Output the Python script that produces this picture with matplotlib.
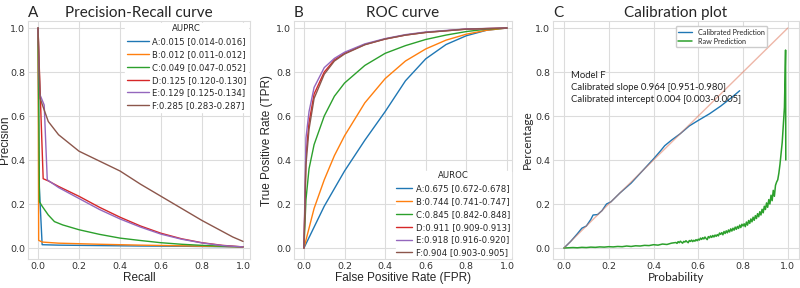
import numpy as np
import matplotlib
matplotlib.use("Agg")
import matplotlib.pyplot as plt
import seaborn as sns

sns.set_style("whitegrid")
plt.rcParams["font.family"] = ["DejaVu Sans"]

models = ["A", "B", "C", "D", "E", "F"]
colors = ["tab:blue", "tab:orange", "tab:green", "tab:red", "tab:purple", "tab:brown"]

auprc = ["0.015 [0.014-0.016]", "0.012 [0.011-0.012]", "0.049 [0.047-0.052]",
         "0.125 [0.120-0.130]", "0.129 [0.125-0.134]", "0.285 [0.283-0.287]"]
auroc = ["0.675 [0.672-0.678]", "0.744 [0.741-0.747]", "0.845 [0.842-0.848]",
         "0.911 [0.909-0.913]", "0.918 [0.916-0.920]", "0.904 [0.903-0.905]"]

# precision-recall curves
pr_recall = {
    "A": [0, 0.005, 0.02, 0.1, 0.3, 0.5, 0.7, 0.9, 1.0],
    "B": [0, 0.003, 0.02, 0.1, 0.3, 0.5, 0.7, 0.9, 1.0],
    "C": [0, 0.003, 0.007, 0.02, 0.05, 0.08, 0.12, 0.2, 0.3, 0.4, 0.5, 0.6, 0.7, 0.8, 0.9, 1.0],
    "D": [0, 0.005, 0.025, 0.05, 0.1, 0.2, 0.3, 0.4, 0.5, 0.6, 0.7, 0.8, 0.9, 1.0],
    "E": [0, 0.008, 0.03, 0.045, 0.1, 0.2, 0.3, 0.4, 0.5, 0.6, 0.7, 0.8, 0.9, 1.0],
    "F": [0, 0.01, 0.05, 0.1, 0.2, 0.3, 0.4, 0.5, 0.6, 0.7, 0.8, 0.9, 0.95, 1.0],
}
pr_precision = {
    "A": [1.0, 0.3, 0.015, 0.013, 0.011, 0.009, 0.008, 0.006, 0.005],
    "B": [1.0, 0.035, 0.027, 0.022, 0.017, 0.013, 0.010, 0.007, 0.005],
    "C": [1.0, 0.7, 0.21, 0.19, 0.15, 0.12, 0.105, 0.083, 0.062, 0.045, 0.034, 0.024, 0.017, 0.012, 0.008, 0.005],
    "D": [1.0, 0.85, 0.315, 0.305, 0.28, 0.235, 0.185, 0.14, 0.10, 0.067, 0.042, 0.024, 0.012, 0.005],
    "E": [1.0, 0.70, 0.65, 0.31, 0.275, 0.225, 0.175, 0.132, 0.095, 0.063, 0.040, 0.023, 0.011, 0.005],
    "F": [1.0, 0.68, 0.575, 0.515, 0.44, 0.395, 0.35, 0.29, 0.235, 0.18, 0.125, 0.075, 0.05, 0.03],
}

# ROC curves
roc_fpr = {
    "A": [0, 0.1, 0.2, 0.3, 0.4, 0.5, 0.6, 0.7, 0.8, 0.9, 1.0],
    "B": [0, 0.05, 0.1, 0.15, 0.2, 0.3, 0.4, 0.5, 0.6, 0.7, 0.8, 0.9, 1.0],
    "C": [0, 0.01, 0.025, 0.05, 0.1, 0.15, 0.2, 0.3, 0.4, 0.5, 0.6, 0.7, 0.8, 0.9, 1.0],
    "D": [0, 0.01, 0.025, 0.05, 0.1, 0.15, 0.2, 0.3, 0.4, 0.5, 0.6, 0.8, 1.0],
    "E": [0, 0.01, 0.025, 0.05, 0.1, 0.15, 0.2, 0.3, 0.4, 0.5, 0.6, 0.8, 1.0],
    "F": [0, 0.01, 0.025, 0.05, 0.1, 0.15, 0.2, 0.3, 0.4, 0.5, 0.6, 0.8, 1.0],
}
roc_tpr = {
    "A": [0, 0.19, 0.35, 0.49, 0.62, 0.76, 0.86, 0.925, 0.965, 0.99, 1.0],
    "B": [0, 0.18, 0.31, 0.42, 0.51, 0.66, 0.77, 0.85, 0.905, 0.945, 0.972, 0.99, 1.0],
    "C": [0, 0.22, 0.36, 0.47, 0.60, 0.69, 0.75, 0.83, 0.885, 0.92, 0.948, 0.968, 0.984, 0.995, 1.0],
    "D": [0, 0.42, 0.57, 0.70, 0.80, 0.855, 0.885, 0.925, 0.95, 0.968, 0.98, 0.995, 1.0],
    "E": [0, 0.50, 0.62, 0.73, 0.82, 0.862, 0.89, 0.928, 0.952, 0.97, 0.982, 0.996, 1.0],
    "F": [0, 0.38, 0.54, 0.68, 0.79, 0.85, 0.882, 0.924, 0.95, 0.968, 0.98, 0.995, 1.0],
}

# calibration, model F
cal_prob = [0, 0.03, 0.06, 0.08, 0.1, 0.12, 0.13, 0.15, 0.17, 0.19, 0.21, 0.25, 0.3, 0.35,
            0.4, 0.43, 0.45, 0.48, 0.52, 0.56, 0.6, 0.65, 0.7, 0.75, 0.785]
cal_pct = [0, 0.03, 0.065, 0.09, 0.1, 0.13, 0.15, 0.152, 0.17, 0.2, 0.21, 0.25, 0.295, 0.35,
           0.405, 0.44, 0.465, 0.49, 0.52, 0.555, 0.58, 0.61, 0.645, 0.685, 0.715]

raw_prob = np.concatenate([np.arange(0, 0.49, 0.02), np.arange(0.5, 0.9901, 0.005), [0.991]])
raw_pct = [
    0.000, 0.001, 0.002, 0.001, 0.003, 0.002, 0.004, 0.003, 0.005, 0.004, 0.006, 0.005, 0.007,
    0.006, 0.009, 0.007, 0.010, 0.009, 0.012, 0.011, 0.015, 0.013, 0.018, 0.016, 0.022,
    0.025, 0.021, 0.029, 0.024, 0.031, 0.026, 0.022, 0.030, 0.027, 0.033, 0.028, 0.024, 0.034,
    0.030, 0.036, 0.029, 0.035, 0.031, 0.038, 0.033, 0.040,
    0.036, 0.045, 0.039, 0.047, 0.041, 0.050, 0.043, 0.038, 0.052, 0.046, 0.055, 0.048, 0.057,
    0.050, 0.059, 0.053, 0.061, 0.055, 0.068, 0.062,
    0.070, 0.060, 0.075, 0.066, 0.078, 0.069, 0.082, 0.073, 0.087, 0.077, 0.090, 0.081, 0.095,
    0.085, 0.098, 0.089, 0.104, 0.093, 0.108, 0.100,
    0.110, 0.097, 0.118, 0.104, 0.125, 0.112, 0.132, 0.119, 0.140, 0.126, 0.147, 0.134, 0.156,
    0.142, 0.165, 0.150, 0.176, 0.160, 0.190, 0.175,
    0.205, 0.185, 0.220, 0.200, 0.240, 0.215, 0.262, 0.235, 0.285, 0.300,
    0.310, 0.340, 0.380, 0.430, 0.480, 0.560, 0.640, 0.900,
    0.400,
]

slope_text = "Model F\nCalibrated slope 0.964 [0.951-0.980]\nCalibrated intercept 0.004 [0.003-0.005]"

label_font = "Liberation Sans"
title_font = "Lato"
grid_c = "#dcdcdc"

fig = plt.figure(figsize=(8, 2.88), dpi=100)
ax1 = fig.add_axes([28 / 800, 29 / 288, 222 / 800, 238 / 288])
ax2 = fig.add_axes([294 / 800, 29 / 288, 218 / 800, 238 / 288])
ax3 = fig.add_axes([553 / 800, 29 / 288, 246 / 800, 238 / 288])

for ax in (ax1, ax2, ax3):
    ax.set_ylim(-0.05, 1.032)
    ax.set_xticks([0, 0.2, 0.4, 0.6, 0.8, 1.0])
    ax.set_yticks([0, 0.2, 0.4, 0.6, 0.8, 1.0])
    ax.tick_params(labelsize=6.8, pad=2, length=0, labelcolor="#333333")
    ax.grid(color=grid_c, linewidth=0.8)
    for s in ax.spines.values():
        s.set_color(grid_c)
        s.set_linewidth(0.8)

ax1.set_xlim(-0.049, 1.034)
ax2.set_xlim(-0.049, 1.025)
ax3.set_xlim(-0.049, 1.05)

for m, c, t in zip(models, colors, auprc):
    ax1.plot(pr_recall[m], pr_precision[m], color=c, lw=1.0, label=m + ":" + t)
for m, c, t in zip(models, colors, auroc):
    ax2.plot(roc_fpr[m], roc_tpr[m], color=c, lw=1.0, label=m + ":" + t)

ax1.legend(title="AUPRC", loc="upper right", fontsize=6.1, title_fontsize=6.1,
           frameon=True, facecolor="white", edgecolor="white", framealpha=1,
           handlelength=2.6, handletextpad=0.4, borderpad=0.2, labelspacing=0.45,
           borderaxespad=0.2)
ax2.legend(title="AUROC", loc="lower right", fontsize=6.1, title_fontsize=6.1,
           frameon=True, facecolor="white", edgecolor="white", framealpha=1,
           handlelength=1.8, handletextpad=0.5, borderpad=0.1, labelspacing=0.45,
           borderaxespad=0.1)

ax3.plot(cal_prob, cal_pct, color="tab:blue", lw=1.0, label="Calibrated Prediction")
ax3.plot(raw_prob, raw_pct, color="tab:green", lw=1.1, label="Raw Prediction")
ax3.plot([0, 1], [0, 1], color="#e07b60", lw=1.0, alpha=0.55)
ax3.text(0.03, 0.805, slope_text, fontsize=6.8, family=title_font, va="top", linespacing=1.4,
         color="#222222")
ax3.legend(loc="upper right", bbox_to_anchor=(0.87, 0.979), frameon=True,
           facecolor="white", edgecolor="#cccccc", framealpha=1,
           prop={"family": title_font, "size": 5.2},
           handlelength=1.9, borderpad=0.35, labelspacing=0.3, borderaxespad=0)

ax1.set_xlabel("Recall", family=label_font, fontsize=8.5, labelpad=1)
ax1.set_ylabel("Precision", family=label_font, fontsize=8.5)
ax2.set_xlabel("False Positive Rate (FPR)", family=label_font, fontsize=8.5, labelpad=1)
ax2.set_ylabel("True Positive Rate (TPR)", family=label_font, fontsize=8.5)
ax3.set_xlabel("Probability", family=title_font, fontsize=8.5, labelpad=1)
ax3.set_ylabel("Percentage", family=title_font, fontsize=8.5)
ax1.yaxis.set_label_coords(-0.078, 0.5)
ax2.yaxis.set_label_coords(-0.095, 0.5)
ax3.yaxis.set_label_coords(-0.082, 0.5)

for ax, letter, title in ((ax1, "A", "Precision-Recall curve"), (ax2, "B", "ROC curve"),
                          (ax3, "C", "Calibration plot")):
    ax.set_title(title, family=title_font, fontsize=11, pad=3)
    ax.set_title(letter, family=title_font, fontsize=11, pad=3, loc="left")

fig.savefig("out.png", dpi=100)
